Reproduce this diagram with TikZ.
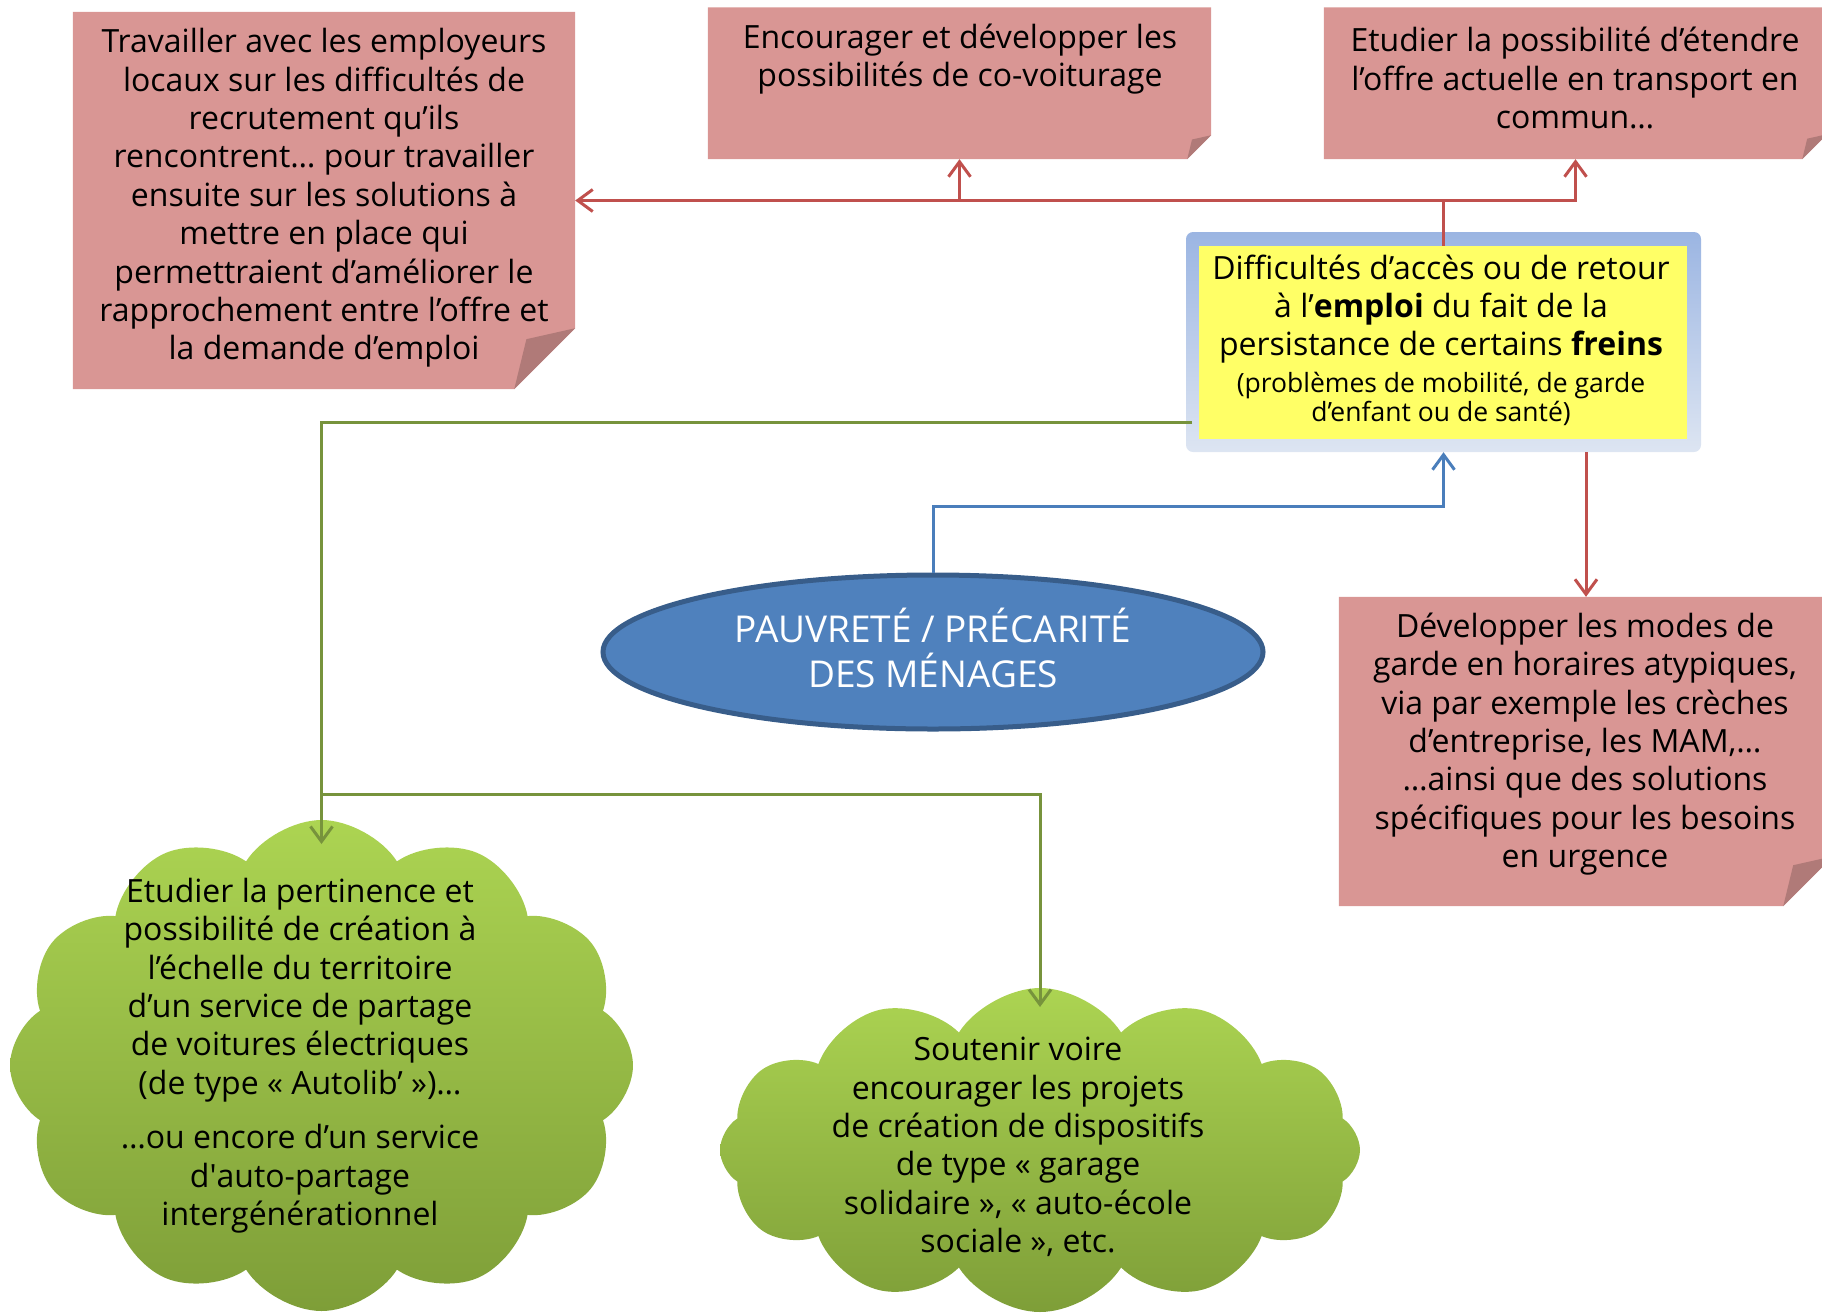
\documentclass[tikz,border=0pt]{standalone}
\usepackage{fontspec}
\setmainfont{Open Sans}
\usetikzlibrary{arrows.meta,shapes.symbols,shapes.geometric,backgrounds}
\definecolor{pinkF}{RGB}{217,150,148}
\definecolor{pinkD}{RGB}{176,122,120}
\definecolor{redL}{RGB}{192,80,77}
\definecolor{greenL}{RGB}{119,147,60}
\definecolor{blueL}{RGB}{74,126,187}
\definecolor{ellF}{RGB}{79,129,189}
\definecolor{ellD}{RGB}{56,93,138}
\definecolor{yelF}{RGB}{255,255,102}
\definecolor{frameT}{RGB}{155,181,226}
\definecolor{frameB}{RGB}{221,229,242}
\definecolor{cloudT}{RGB}{172,212,82}
\definecolor{cloudB}{RGB}{126,158,56}
\newcommand\txtMain{\fontsize{32}{38.4}\selectfont}
\newcommand\txtSmall{\fontsize{26.5}{29}\selectfont}
\newcommand\txtEll{\fontsize{37}{45}\selectfont}
\newcommand\pinkpaper[2]{%
  \fill[pinkF] (#1.north west) -- (#1.north east) -- ([yshift=#2pt]#1.south east)
     -- ([xshift=-#2pt]#1.south east) -- (#1.south west) -- cycle;
  \fill[pinkD] ([yshift=#2pt]#1.south east) -- ([xshift=-#2pt]#1.south east)
     -- ([xshift=-0.8*#2pt,yshift=0.82*#2pt]#1.south east) -- cycle;}
\tikzset{
  paper/.style={rectangle, inner sep=0pt},
  txt/.style={align=center, inner sep=0pt, text=black, font=\txtMain},
  arr/.style={line width=3pt, -{Straight Barb[length=15pt,width=22pt,line width=3pt]}},
  redarrow/.style={arr, draw=redL},
  greenarrow/.style={arr, draw=greenL},
  bluearrow/.style={arr, draw=blueL},
  greencloud/.style={cloud, cloud puffs=12, cloud puff arc=115, inner sep=0pt,
     top color=cloudT, bottom color=cloudB, draw=none},
}
\begin{document}
\begin{tikzpicture}[x=1pt,y=-1pt]
\useasboundingbox (0,0) rectangle (1822,1312);
\clip (0,0) rectangle (1822,1312);

% pink papers (placeholders)
\node[paper, minimum width=502pt, minimum height=377pt] (lbox) at (324,200.5) {};
\node[paper, minimum width=503pt, minimum height=151.5pt] (covoit) at (959.5,83.25) {};
\node[paper, minimum width=503pt, minimum height=151.5pt] (transp) at (1575.5,83.25) {};
\node[paper, minimum width=494pt, minimum height=309pt] (brbox) at (1586,751.5) {};
\begin{scope}[on background layer]
  \pinkpaper{lbox}{61}
  \pinkpaper{covoit}{24}
  \pinkpaper{transp}{25}
  \pinkpaper{brbox}{50}
\end{scope}

\node[txt] (tl) at (324,198) {Travailler avec les employeurs\\locaux sur les difficultés de\\recrutement qu’ils\\rencontrent… pour travailler\\ensuite sur les solutions à\\mettre en place qui\\permettraient d’améliorer le\\rapprochement entre l’offre et\\la demande d’emploi};
\node[txt] (tc) at (960,59) {Encourager et développer les\\possibilités de co-voiturage};
\node[txt] (tt) at (1575,78) {Etudier la possibilité d’étendre\\l’offre actuelle en transport en\\commun…};
\node[txt] (tb) at (1585,744) {Développer les modes de\\garde en horaires atypiques,\\via par exemple les crèches\\d’entreprise, les MAM,…\\…ainsi que des solutions\\spécifiques pour les besoins\\en urgence};

% central yellow box
\node[rectangle, rounded corners=7pt, top color=frameT, bottom color=frameB, draw=none,
      minimum width=515pt, minimum height=220pt] (frame) at (1443.5,342) {};
\node[rectangle, fill=yelF, minimum width=488pt, minimum height=193pt] (inner) at (1443,342.5) {};
\node[txt] (ty1) at (1441,309) {Difficultés d’accès ou de retour\\à l’\textbf{emploi} du fait de la\\persistance de certains \textbf{freins}};
\node[txt, font=\txtSmall] (ty2) at (1441,398.5) {(problèmes de mobilité, de garde\\d’enfant ou de santé)};

% ellipse
\node[ellipse, draw=ellD, line width=5pt, fill=ellF, minimum width=660pt, minimum height=154pt] (ell) at (933,652) {};
\node[txt, text=white, font=\txtEll] (te) at (933,648) {PAUVRETÉ / PRÉCARITÉ\\DES MÉNAGES};

% clouds
\node[greencloud, minimum width=623pt, minimum height=491pt, aspect=1.27] (lcloud) at (321.5,1065.5) {};
\node[greencloud, minimum width=640pt, minimum height=324pt, aspect=1.98] (rcloud) at (1040,1150) {};
\node[txt] (tlc) at (300,1055.5) {Etudier la pertinence et\\possibilité de création à\\l’échelle du territoire\\d’un service de partage\\de voitures électriques\\(de type « Autolib’ »)…\\[16pt]…ou encore d’un service\\d\textquotesingle auto-partage\\intergénérationnel};
\node[txt] (trc) at (1018,1147) {Soutenir voire\\encourager les projets\\de création de dispositifs\\de type « garage\\solidaire », « auto-école\\sociale », etc.};

% connectors
\coordinate (jr) at (inner.north |- lbox.east);
\draw[redL, line width=3pt] (inner.north) -- (jr);
\draw[redarrow] (jr) -- (lbox.east);
\draw[redarrow] (jr) -| (covoit.south);
\draw[redarrow] (jr) -| (transp.south);
\draw[redarrow] (frame.south -| brbox.north) -- (brbox.north);

\coordinate (blueY) at (0,506);
\draw[bluearrow] (ell.north) -- (ell.north |- blueY) -| (frame.south);

\coordinate (gS) at (1192,422);
\coordinate (gLtip) at (lcloud.center |- 0,844);
\coordinate (gRtip) at (rcloud.center |- 0,1007);
\coordinate (gJ) at (gLtip |- 0,794);
\draw[greenarrow] (gS) -| (gLtip);
\draw[greenarrow] (gJ) -| (gRtip);
\end{tikzpicture}
\end{document}
